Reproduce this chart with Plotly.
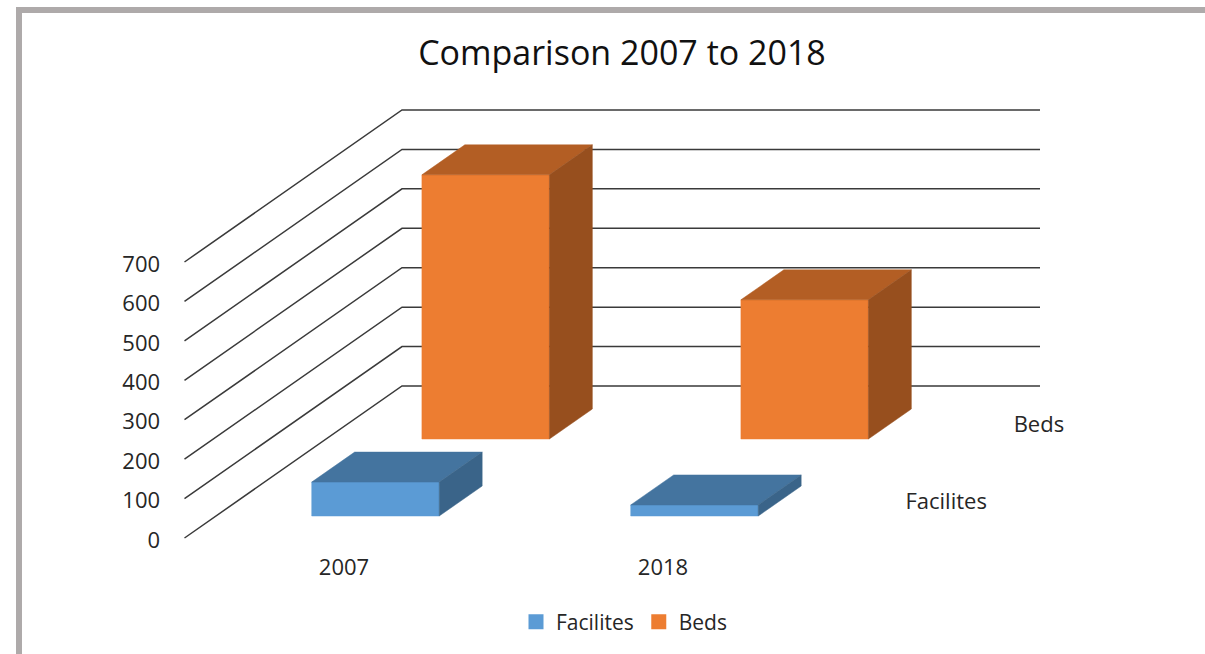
import plotly.graph_objects as go

# ---- data ----
categories = ["2007", "2018"]
facilites = [86, 28]
beds = [670, 353]
value_ticks = [0, 100, 200, 300, 400, 500, 600, 700]
series_names = ["Facilites", "Beds"]

# ---- styling / projection ----
W, H = 1205, 654
X0, Y0 = 184.5, 538.0      # pixel of category 0 / value 0 at front of floor
CAT_PX = 319.0             # pixels per category
VAL_PX = 0.3943            # pixels per value unit
DEPTH_DX, DEPTH_DY = 217.5, 152.0   # pixel shift of full chart depth
BAR_W = 127.5 / CAT_PX
BAR_DEPTH = 30.0 / DEPTH_DY
DEPTH_START = {"Facilites": 22.0 / DEPTH_DY, "Beds": 99.0 / DEPTH_DY}
COLORS = {
    "Facilites": ("#5b9bd5", "#44749f", "#3a6489"),
    "Beds": ("#ed7d31", "#b35e24", "#974f1e"),
}
GRID = "#3a3a3a"
TEXT = "#262626"
FONT = "Open Sans"
SIZE = 22


def proj(cat, val, depth):
    """Oblique projection of (category, value, depth) into axis units."""
    return (cat + depth * DEPTH_DX / CAT_PX, val + depth * DEPTH_DY / VAL_PX)


def poly(points):
    xy = [proj(*p) for p in points] + [proj(*points[0])]
    return [p[0] for p in xy], [p[1] for p in xy]


fig = go.Figure()

n_cat = len(categories)
for v in value_ticks:
    xs, ys = zip(proj(0, v, 0), proj(0, v, 1), proj(n_cat, v, 1))
    fig.add_trace(go.Scatter(x=xs, y=ys, mode="lines", showlegend=False, hoverinfo="skip",
                             line=dict(color=GRID, width=1.5)))


def add_bar(series, i, val):
    front, top, side = COLORS[series]
    c0 = i + 0.5 - BAR_W / 2
    c1 = i + 0.5 + BAR_W / 2
    d0 = DEPTH_START[series]
    d1 = d0 + BAR_DEPTH
    faces = [
        ([(c0, 0, d0), (c1, 0, d0), (c1, val, d0), (c0, val, d0)], front),
        ([(c0, val, d0), (c1, val, d0), (c1, val, d1), (c0, val, d1)], top),
        ([(c1, 0, d0), (c1, 0, d1), (c1, val, d1), (c1, val, d0)], side),
    ]
    for pts, col in faces:
        xs, ys = poly(pts)
        fig.add_trace(go.Scatter(x=xs, y=ys, mode="lines", fill="toself", fillcolor=col,
                                 line=dict(color=col, width=0.5), showlegend=False,
                                 hovertemplate=f"{series} {categories[i]}: {val}<extra></extra>"))


for i, v in enumerate(beds):
    add_bar("Beds", i, v)
for i, v in enumerate(facilites):
    add_bar("Facilites", i, v)

for name in series_names:
    fig.add_trace(go.Scatter(x=[None], y=[None], mode="markers", name=name,
                             marker=dict(symbol="square", size=15, color=COLORS[name][0])))

for name, gap in zip(series_names, (30, 28)):
    d = DEPTH_START[name] + BAR_DEPTH / 2
    x, y = proj(n_cat, 0, d)
    fig.add_trace(go.Scatter(x=[x + gap / CAT_PX], y=[y - 2.5 / VAL_PX], mode="text", text=[name],
                             textposition="middle right", showlegend=False, hoverinfo="skip",
                             textfont=dict(family=FONT, size=SIZE, color=TEXT)))

fig.update_layout(
    width=W, height=H, autosize=False,
    margin=dict(l=0, r=0, t=0, b=0),
    paper_bgcolor="white", plot_bgcolor="white",
    font=dict(family=FONT, color=TEXT),
    title=dict(text="Comparison 2007 to 2018", x=622 / W, xanchor="center", y=1 - 53 / H,
               yanchor="middle", font=dict(family=FONT, size=34, color="#111111")),
    showlegend=True,
    legend=dict(orientation="h", x=624 / W, xanchor="center", y=1 - 622 / H, yanchor="middle",
                font=dict(family=FONT, size=21, color=TEXT), bgcolor="rgba(0,0,0,0)",
                itemwidth=30, tracegroupgap=0),
    xaxis=dict(
        domain=[0, 1], range=[-X0 / CAT_PX, (W - X0) / CAT_PX], showgrid=False, zeroline=False,
        showline=False, tickmode="array", tickvals=[i + 0.5 for i in range(n_cat)],
        ticktext=categories, ticks="outside", ticklen=0,
        tickfont=dict(family=FONT, size=SIZE, color=TEXT),
        anchor="free", position=1 - 548 / H, fixedrange=True,
    ),
    yaxis=dict(
        domain=[0, 1], range=[(Y0 - H) / VAL_PX, Y0 / VAL_PX], showgrid=False, zeroline=False,
        showline=False, tickmode="array", tickvals=value_ticks, ticks="outside", ticklen=20,
        tickcolor="rgba(0,0,0,0)", tickfont=dict(family=FONT, size=SIZE, color=TEXT),
        ticklabelshift=2,
        anchor="free", position=X0 / W, fixedrange=True,
    ),
    shapes=[
        dict(type="rect", xref="paper", yref="paper", x0=16 / W, x1=1, y0=0, y1=1 - 7 / H,
             line=dict(width=0), fillcolor="#aeaaaa", layer="below"),
        dict(type="rect", xref="paper", yref="paper", x0=22 / W, x1=1, y0=0, y1=1 - 13 / H,
             line=dict(width=0), fillcolor="white", layer="below"),
    ],
)

fig.write_html("out.html", config={"displayModeBar": False},
               default_width="1205px", default_height="654px",
               post_script="document.body.style.margin='0';document.body.style.overflow='hidden';")
